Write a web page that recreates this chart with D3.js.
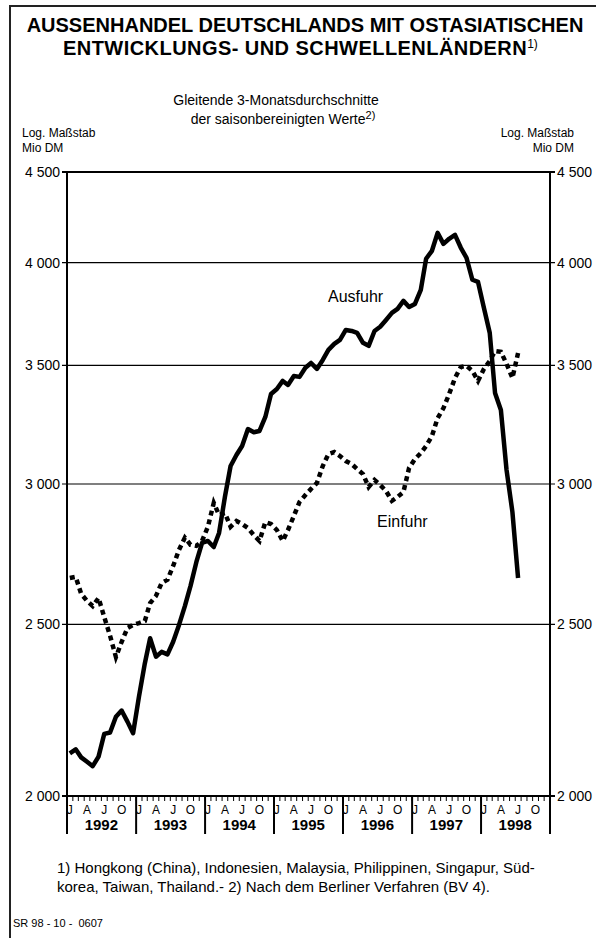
<!DOCTYPE html>
<html lang="de">
<head>
  <meta charset="UTF-8">
  <title>Aussenhandel Deutschlands mit ostasiatischen Entwicklungs- und Schwellenländern</title>
  <script src="https://cdn.jsdelivr.net/npm/d3@7"></script>
  <style>
    body { margin: 0; background: #fff; }
    svg text { font-family: "Liberation Sans", Arial, sans-serif; fill: #000; }
  </style>
</head>
<body>
  <div id="chart"></div>
  <script>
    // Gleitende 3-Monatsdurchschnitte, Mio DM, Jan 1992 - Jul 1998
    const ausfuhr = [2114, 2125, 2103, 2091, 2079, 2105, 2168, 2172, 2217, 2235, 2203, 2170,
      2276, 2376, 2455, 2397, 2412, 2404, 2444, 2498, 2560, 2628, 2711, 2779,
      2786, 2764, 2815, 2950, 3071, 3115, 3152, 3222, 3209, 3214, 3273, 3372,
      3394, 3430, 3412, 3452, 3448, 3489, 3511, 3484, 3525, 3571, 3599, 3618,
      3665, 3660, 3651, 3604, 3590, 3660, 3680, 3713, 3747, 3767, 3806, 3776,
      3791, 3861, 4020, 4062, 4158, 4099, 4126, 4147, 4078, 4025, 3912, 3901,
      3772, 3651, 3377, 3303, 3055, 2893, 2655];

    const einfuhr = [2655, 2659, 2601, 2577, 2560, 2587, 2524, 2463, 2396, 2443, 2488, 2498,
      2504, 2511, 2570, 2594, 2638, 2649, 2697, 2754, 2798, 2772, 2768, 2786,
      2838, 2927, 2882, 2889, 2838, 2859, 2848, 2833, 2807, 2786, 2855, 2848,
      2826, 2786, 2826, 2878, 2931, 2957, 2981, 3004, 3071, 3119, 3127, 3111,
      3091, 3079, 3059, 3039, 2988, 3016, 2996, 2973, 2935, 2950, 2969, 3063,
      3099, 3123, 3152, 3193, 3268, 3311, 3372, 3443, 3493, 3498, 3475, 3430,
      3484, 3520, 3566, 3562, 3507, 3443, 3557];

    const yTicks = [2000, 2500, 3000, 3500, 4000, 4500];
    const years = [1992, 1993, 1994, 1995, 1996, 1997, 1998];
    const quarterLetters = ["J", "A", "J", "O"];

    const margin = { top: 172, left: 67 },
      width = 483,
      height = 624;

    const months = d3.timeMonth.range(new Date(1992, 0, 1), new Date(1998, 7, 1));
    const data = months.map((m, i) => ({ date: m, aus: ausfuhr[i], ein: einfuhr[i] }));

    const svg = d3.select("#chart")
      .append("svg")
      .attr("width", 596)
      .attr("height", 938);

    // Rahmen
    svg.append("path")
      .attr("d", "M10,940 V6 H600")
      .attr("fill", "none")
      .attr("stroke", "#222")
      .attr("stroke-width", 2);

    // Titel
    svg.append("text")
      .attr("x", 305).attr("y", 32)
      .attr("text-anchor", "middle")
      .style("font-size", "20px").style("font-weight", "bold")
      .text("AUSSENHANDEL DEUTSCHLANDS MIT OSTASIATISCHEN");

    const t2 = svg.append("text")
      .attr("x", 63).attr("y", 55)
      .style("font-size", "20px").style("font-weight", "bold");
    t2.append("tspan").style("letter-spacing", "0.45px").text("ENTWICKLUNGS- UND SCHWELLENLÄNDERN");
    t2.append("tspan").attr("dy", -7).style("font-size", "12px").style("font-weight", "normal").text("1)");

    svg.append("text")
      .attr("x", 276).attr("y", 105)
      .attr("text-anchor", "middle")
      .style("font-size", "14px")
      .text("Gleitende 3-Monatsdurchschnitte");

    const sub2 = svg.append("text")
      .attr("x", 283).attr("y", 124)
      .attr("text-anchor", "middle")
      .style("font-size", "14px");
    sub2.append("tspan").text("der saisonbereinigten Werte");
    sub2.append("tspan").attr("dy", -5).style("font-size", "11px").text("2)");

    // Achsenbeschriftung links / rechts
    [["start", 22], ["end", 574]].forEach(([anchor, x]) => {
      svg.append("text").attr("x", x).attr("y", 137).attr("text-anchor", anchor)
        .style("font-size", "12px").text("Log. Maßstab");
      svg.append("text").attr("x", x).attr("y", 152).attr("text-anchor", anchor)
        .style("font-size", "12px").text("Mio DM");
    });

    const g = svg.append("g")
      .attr("transform", `translate(${margin.left},${margin.top})`);

    const x = d3.scaleTime()
      .domain([new Date(1992, 0, 1), new Date(1999, 0, 1)])
      .range([0, width]);

    const y = d3.scaleLog()
      .domain([2000, 4500])
      .range([height, 0]);

    // Monatsmitte
    const mid = d => x(new Date(d.getFullYear(), d.getMonth(), 16));

    const fmt = v => d3.format(",")(v).replace(",", " ");

    // Gitterlinien
    g.selectAll(".grid")
      .data(yTicks)
      .enter()
      .append("line")
      .attr("x1", -5).attr("x2", width + 5)
      .attr("y1", d => y(d)).attr("y2", d => y(d))
      .attr("stroke", "#000")
      .attr("stroke-width", d => (d === 4500 || d === 2000) ? 2 : 1.2);

    g.selectAll(".ylabL")
      .data(yTicks)
      .enter()
      .append("text")
      .attr("x", -7).attr("y", d => y(d) + 5)
      .attr("text-anchor", "end")
      .style("font-size", "14px")
      .text(fmt);

    g.selectAll(".ylabR")
      .data(yTicks)
      .enter()
      .append("text")
      .attr("x", width + 7).attr("y", d => y(d) + 5)
      .attr("text-anchor", "start")
      .style("font-size", "14px")
      .text(fmt);

    // Monatsstriche
    const monthEdges = d3.timeMonth.range(new Date(1992, 0, 1), new Date(1999, 0, 2));
    g.selectAll(".mtick")
      .data(monthEdges)
      .enter()
      .append("line")
      .attr("x1", d => x(d)).attr("x2", d => x(d))
      .attr("y1", height).attr("y2", height + 5)
      .attr("stroke", "#000").attr("stroke-width", 1);

    // Monatsbuchstaben
    const quarters = d3.timeMonth.every(3).range(new Date(1992, 0, 1), new Date(1999, 0, 1));
    g.selectAll(".qlab")
      .data(quarters)
      .enter()
      .append("text")
      .attr("x", d => mid(d)).attr("y", height + 18)
      .attr("text-anchor", "middle")
      .style("font-size", "12px")
      .text(d => quarterLetters[d.getMonth() / 3]);

    // Jahrestrenner und Jahre (aeussere gehen bis oben)
    const yearEdges = years.concat([1999]).map(yr => new Date(yr, 0, 1));
    g.selectAll(".ysep")
      .data(yearEdges)
      .enter()
      .append("line")
      .attr("x1", d => x(d)).attr("x2", d => x(d))
      .attr("y1", (d, i) => (i === 0 || i === years.length) ? 0 : height)
      .attr("y2", height + 38)
      .attr("stroke", "#000").attr("stroke-width", 2);

    g.selectAll(".ylab")
      .data(years)
      .enter()
      .append("text")
      .attr("x", d => x(new Date(d, 6, 1)))
      .attr("y", height + 34)
      .attr("text-anchor", "middle")
      .style("font-size", "15px").style("font-weight", "bold")
      .text(d => d);

    // Linien
    const lineAus = d3.line().x(d => mid(d.date)).y(d => y(d.aus));
    const lineEin = d3.line().x(d => mid(d.date)).y(d => y(d.ein));

    g.append("path")
      .datum(data)
      .attr("fill", "none")
      .attr("stroke", "#000")
      .attr("stroke-width", 4.5)
      .attr("stroke-dasharray", "5,4")
      .attr("d", lineEin);

    g.append("path")
      .datum(data)
      .attr("fill", "none")
      .attr("stroke", "#000")
      .attr("stroke-width", 4.5)
      .attr("stroke-linejoin", "round")
      .attr("d", lineAus);

    g.append("text")
      .attr("x", 261).attr("y", 130)
      .style("font-size", "16px")
      .text("Ausfuhr");

    g.append("text")
      .attr("x", 310).attr("y", 355)
      .style("font-size", "16px")
      .text("Einfuhr");

    // Fussnoten
    svg.append("text").attr("x", 57).attr("y", 873)
      .style("font-size", "15px")
      .text("1) Hongkong (China), Indonesien, Malaysia, Philippinen, Singapur, Süd-");
    svg.append("text").attr("x", 57).attr("y", 892)
      .style("font-size", "15px")
      .text("korea, Taiwan, Thailand.- 2) Nach dem Berliner Verfahren (BV 4).");
    svg.append("text").attr("x", 13).attr("y", 927)
      .style("font-size", "11px")
      .style("white-space", "pre")
      .text("SR 98 - 10 -  0607");
  </script>
</body>
</html>
